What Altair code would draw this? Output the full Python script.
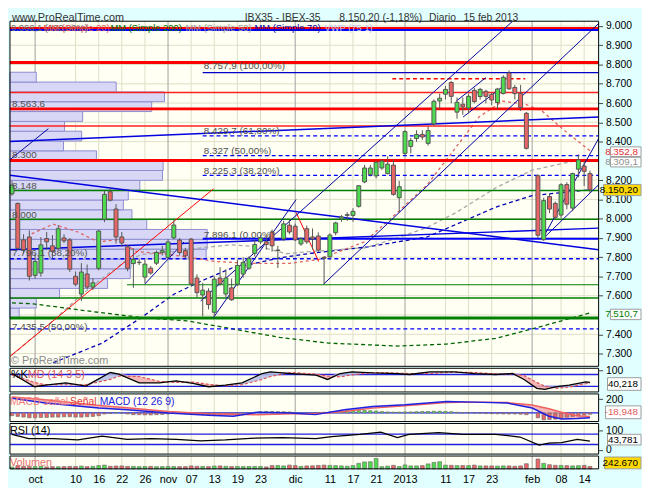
import altair as alt
import pandas as pd

# ============================ data ============================
CANDLE_IDX = list(range(0, 90)) + list(range(91, 101))
OPEN = [8129, 8079, 7890, 7905, 7706, 7718, 7897, 7859, 7846, 7900,
        7890, 7701, 7609, 7713, 7645, 7742, 7997, 8140, 8050, 7905,
        7854, 7767, 7772, 7697, 7743, 7769, 7825, 7798, 7900, 7889,
        7834, 7894, 7692, 7604, 7624, 7514, 7692, 7609, 7641, 7660,
        7713, 7743, 7820, 7880, 7880, 7931, 7835, 7895, 7966, 7961,
        7869, 7948, 7905, 7910, 7799, 7802, 7927, 7999, 8017, 8017,
        8064, 8191, 8229, 8222, 8263, 8234, 8278, 8109, 8339, 8375,
        8416, 8437, 8391, 8492, 8611, 8646, 8707, 8553, 8594, 8574,
        8666, 8634, 8661, 8645, 8603, 8650, 8756, 8681, 8650, 8547,
        8223, 7891, 8115, 8079, 8019, 8177, 8055, 8257, 8273, 8234]
HIGH = [8194, 8084, 7919, 7939, 7819, 7904, 7931, 7915, 7967, 7919,
        7899, 7726, 7769, 7762, 7692, 7941, 8145, 8159, 8075, 7931,
        7864, 7846, 7789, 7788, 7754, 7834, 7859, 7894, 7992, 7899,
        7849, 7899, 7711, 7667, 7639, 7701, 7749, 7737, 7689, 7788,
        7799, 7804, 7889, 7914, 7914, 7944, 7859, 7989, 7994, 7974,
        7904, 7964, 7949, 7929, 7804, 7924, 7984, 8019, 8034, 8054,
        8174, 8279, 8279, 8299, 8309, 8324, 8309, 8196, 8459, 8419,
        8459, 8459, 8479, 8619, 8649, 8689, 8714, 8629, 8629, 8649,
        8679, 8679, 8669, 8654, 8679, 8744, 8769, 8694, 8694, 8554,
        8229, 8109, 8129, 8089, 8184, 8189, 8239, 8334, 8299, 8249]
LOW = [8119, 7839, 7819, 7679, 7689, 7699, 7839, 7794, 7839, 7874,
       7724, 7649, 7573, 7635, 7629, 7732, 7982, 8089, 7871, 7854,
       7727, 7641, 7759, 7667, 7709, 7759, 7809, 7789, 7894, 7809,
       7794, 7649, 7590, 7494, 7529, 7489, 7654, 7590, 7574, 7650,
       7694, 7734, 7804, 7869, 7839, 7829, 7744, 7884, 7919, 7884,
       7859, 7869, 7839, 7829, 7661, 7789, 7914, 7984, 7989, 7984,
       8057, 8184, 8219, 8209, 8254, 8229, 8119, 8033, 8329, 8339,
       8399, 8409, 8379, 8484, 8569, 8619, 8599, 8519, 8539, 8549,
       8599, 8619, 8599, 8589, 8569, 8644, 8669, 8619, 8559, 8359,
       7899, 7884, 8029, 7999, 8004, 8049, 8039, 8214, 8169, 8134]
CLOSE = [8174, 7846, 7839, 7701, 7778, 7864, 7880, 7829, 7948, 7885,
         7738, 7660, 7723, 7645, 7667, 7936, 8126, 8096, 7905, 7874,
         7742, 7789, 7774, 7764, 7718, 7825, 7834, 7879, 7967, 7824,
         7807, 7661, 7616, 7629, 7554, 7686, 7662, 7692, 7579, 7757,
         7772, 7794, 7866, 7900, 7866, 7859, 7837, 7973, 7931, 7890,
         7895, 7880, 7895, 7837, 7794, 7915, 7978, 8009, 8021, 8038,
         8171, 8263, 8263, 8293, 8299, 8283, 8126, 8166, 8452, 8406,
         8437, 8424, 8457, 8609, 8625, 8671, 8635, 8604, 8581, 8635,
         8608, 8671, 8635, 8616, 8673, 8734, 8674, 8649, 8577, 8365,
         7914, 8094, 8050, 8007, 8176, 8075, 8234, 8305, 8246, 8150.2]
VOLUME = [180000, 330000, 260000, 250000, 230000, 260000, 200000, 230000, 210000, 230000,
          250000, 240000, 280000, 230000, 250000, 330000, 380000, 260000, 290000, 300000,
          250000, 250000, 220000, 240000, 250000, 220000, 230000, 240000, 240000, 220000,
          220000, 300000, 260000, 240000, 230000, 290000, 300000, 260000, 230000, 250000,
          230000, 240000, 250000, 240000, 200000, 330000, 340000, 300000, 380000, 330000,
          250000, 300000, 310000, 350000, 380000, 350000, 330000, 300000, 270000, 330000,
          560000, 700000, 720000, 1050000, 220000, 280000, 360000, 240000, 400000, 300000,
          300000, 330000, 500000, 650000, 720000, 380000, 360000, 330000, 340000, 330000,
          380000, 300000, 300000, 300000, 280000, 300000, 300000, 260000, 300000, 520000,
          1000000, 560000, 420000, 360000, 350000, 330000, 300000, 320000, 350000, 242670]
MACD_HIST = [-40, -50, -60, -70, -70, -65, -65, -60, -60, -55,
             -55, -60, -60, -55, -50, -40, -15, -5, 5, 0,
             -15, -25, -25, -28, -28, -25, -20, -15, -5, -5,
             -8, -18, -22, -25, -25, -22, -20, -18, -15, -8,
             -3, 0, 10, 18, 22, 22, 20, 18, 15, 5,
             0, -5, -3, 5, 10, 12, 18, 25, 30, 32,
             35, 35, 32, 28, 20, 15, 12, 12, 15, 15,
             18, 20, 22, 25, 25, 22, 18, 10, 5, 3,
             0, -3, -8, -10, -12, -14, -15, -15, -18, -25,
             -70, -100, -95, -90, -80, -60, -50, -40, -30, -18.948]

TICK_IDX = [4, 11, 15, 19, 23, 27, 31, 35, 39, 43, 49, 55, 59, 63, 68, 75, 79, 83, 90, 95, 99]
TICK_LABELS = ["oct", "10", "16", "22", "26", "nov", "07", "13", "19", "23", "dic",
               "11", "17", "21", "2013", "11", "17", "23", "feb", "08", "14"]
MONTH_TICKS = [4, 27, 49, 68, 90]
PRICE_TICKS = [9000, 8900, 8800, 8700, 8600, 8500, 8400, 8200, 8100,
               8000, 7900, 7800, 7700, 7600, 7400, 7300]
GRID_PRICES = [7300, 7400, 7500, 7600, 7700, 7800, 7900, 8000, 8100,
               8200, 8300, 8400, 8500, 8600, 8700, 8800, 8900, 9000]

MA20_IDX = [3.4, 7.1, 11.4, 14.8, 18.2, 21.6, 25.9, 31, 35.2, 41.2, 48, 53, 61,
            66.7, 71.8, 76.4, 80.8, 84.9, 88.8, 91.7, 95.6, 100]
MA20_VAL = [7921, 7972, 7931, 7880, 7890, 7829, 7819, 7798, 7778, 7768, 7768, 7788, 7880,
            8032, 8175, 8354, 8528, 8610, 8594, 8559, 8457, 8352.8]
MA50_IDX = [0, 7.1, 12.2, 15.6, 19.6, 22.4, 29.3, 32.7, 37.8, 42.9, 47.4, 51.4, 61.1,
            66.7, 71.8, 76.9, 83.7, 90, 97.8, 100]
MA50_VAL = [7293, 7471, 7609, 7691, 7778, 7814, 7834, 7849, 7864, 7854, 7818, 7829, 7849,
            7900, 7954, 8033, 8160, 8252, 8303, 8309.1]
MA70_IDX = [7.1, 15.6, 22.4, 28.1, 32.7, 38.3, 41.2, 46.8, 51.4, 61.6, 71.8, 83.7, 90, 100]
MA70_VAL = [7252, 7354, 7487, 7609, 7676, 7747, 7763, 7799, 7819, 7854, 7905, 8060, 8120, 8150]
MA200_IDX = [0, 3.7, 12.8, 22.4, 30.4, 37.8, 46.3, 54.8, 66.7, 75.2, 83.7, 92.2, 100]
MA200_VAL = [7563, 7558, 7522, 7487, 7469, 7430, 7384, 7354, 7339, 7349, 7379, 7446, 7510.7]

PROFILE_LOW = [7485, 7536, 7587, 7638, 7689, 7740, 7791, 7842, 7893, 7944, 7995, 8046, 8097,
               8148, 8199, 8250, 8301, 8352, 8403, 8454, 8505, 8556, 8607, 8658, 8709]
PROFILE_STEP = 51
PROFILE_VOL = [9.3, 26.7, 50.3, 99, 122, 122.7, 199, 200, 200, 138.7, 123.7, 115, 120,
               131.7, 154.7, 155.3, 87.7, 54.3, 72.7, 55.3, 73.7, 143.7, 156.7, 107.7, 26.7]

FULL_A, FULL_B, FIB_A = -0.35, 101.5, 33.0
HL_PRICE = [8990, 8979, 8811, 8757.9, 8726, 8655, 8570, 8481, 8429.7, 8327, 8302, 8225.3,
            8146, 7997, 7896.1, 7792, 7657, 7588, 7484, 7428]
HL_FROM = [FULL_A, FULL_A, FULL_A, FIB_A, 65.8, FULL_A, FULL_A, FULL_A, FIB_A, FIB_A, FULL_A, FIB_A,
           FULL_A, FULL_A, FIB_A, FULL_A, 19.9, FULL_A, FULL_A, FULL_A]
HL_TO = [FULL_B, FULL_B, FULL_B, FULL_B, 88.8, FULL_B, FULL_B, FULL_B, FULL_B, FULL_B, FULL_B, FULL_B,
         FULL_B, FULL_B, FULL_B, FULL_B, FULL_B, FULL_B, FULL_B, FULL_B]
HL_KIND = ["redw", "bluew", "redthick", "blue", "reddash", "red", "redthick", "red", "bluedash",
           "bluedash", "redthick", "bluedash", "green", "green", "bluew", "bluedash", "greenthin",
           "green", "greenthick", "bluedash"]

DG_I0 = [-0.35, 49.15, -0.35, -0.35, -0.35, -0.35, 22.96, 34.86, 32.65, 53.91, 76.87, 78.06, 91.67, 91.67]
DG_P0 = [7285, 8033, 8306, 8400, 8225, 7839, 7660, 7487, 7573, 7660, 8610, 8528, 7890, 7890]
DG_I1 = [34.86, 53.06, 6.29, 101.5, 101.5, 101.5, 29.76, 49.15, 86.56, 101.5, 81.97, 85.37, 101.5, 101.5]
DG_P1 = [8155, 7778, 8467, 8528, 7839, 7951, 7879, 8099, 9023, 9013, 8732, 8696, 8416, 8176]
DG_KIND = ["red", "red", "chan", "trend", "trend", "trend", "chan", "chan", "chan", "chan",
           "chan", "chan", "chan", "chan"]

NOTE_IDX = [33.2, 0.0, 33.2, 0.0, 33.2, 33.2, 0.0, 0.0, 33.2, 0.0, 0.0]
NOTE_PRICE = [8779, 8581, 8439, 8316, 8336, 8234, 8152, 8004, 7902, 7804, 7420]
NOTE_TEXT = ["8.757,9 (100,00%)", "8.563,6", "8.429,7 (61,80%)", "8.300", "8.327 (50,00%)",
             "8.225,3 (38,20%)", "8.148", "8.000", "7.896,1 (0,00%)", "7.796,1 (38,20%)",
             "7.435,5 (50,00%)"]

K_IDX = [0, 3.9, 5.8, 9.3, 12.8, 17, 18.5, 22, 25.5, 28.4, 31.3, 34, 36.9, 39.8, 43.3, 44.7,
         48.3, 52.6, 54.6, 56.8, 58.8, 62.4, 66.7, 68.8, 72.3, 76.5, 80.1, 83.7, 86.6, 88.6,
         90.8, 92.2, 94.3, 96.4, 99.3, 100]
K_VAL = [85, 18, 26, 38, 21, 90, 82, 38, 38, 48, 35, 18, 26, 38, 85, 93, 85, 77, 55, 85, 93,
         88, 85, 80, 93, 93, 85, 80, 85, 55, 10, 5, 18, 26, 43, 40.218]
D_VAL = [78, 40, 28, 28, 28, 55, 72, 70, 45, 40, 42, 30, 22, 28, 55, 70, 90, 82, 72, 68, 78,
         90, 87, 85, 85, 92, 90, 83, 82, 75, 40, 20, 10, 16, 33, 36]
K_LEVELS = [80, 20]

MACD_IDX = [0, 5.8, 15, 19.9, 27, 34, 38.3, 42.5, 48.3, 52.5, 57.5, 62.4, 68, 75.2, 80.1,
            85.7, 90, 92.9, 95.1, 97.8, 100]
MACD_VAL = [214, 143, 71, 47, 0, -33, -48, 10, 0, -24, 47, 95, 119, 166, 157, 143, 71, -48,
            -86, -81, -70]
SIGNAL_VAL = [230, 190, 110, 75, 20, -10, -20, -25, -10, -12, 20, 70, 105, 150, 157, 150,
              115, 60, 10, -40, -51]

RSI_IDX = [0, 2.9, 7.1, 11.4, 15.6, 19.9, 24.1, 28.4, 32.7, 36.9, 41.2, 46.8, 52.6, 55.3,
           60.2, 63.8, 66.7, 68.7, 73.8, 78.1, 83.7, 87.9, 91.2, 92.9, 95.1, 97.8, 100]
RSI_VAL = [78.5, 57, 57, 50, 70, 53.5, 57, 53.5, 45, 50, 58.5, 62, 57, 67, 78.5, 90, 62,
           78.5, 87, 78.5, 78.5, 65, 23.5, 33.5, 37, 53.5, 43.781]
RSI_LEVELS = [80, 27]

# ================================== styling ==================================
FONT = "Liberation Sans"
PAGE_BG = "#E1FFFF"
PLOT_BG = "#FFFFF3"
GRID_LIGHT = "#DEDEC8"
GRID_DARK = "#A0A0A0"
UP_COL = "#4FDB4F"
DOWN_COL = "#E86666"
EDGE = "#555555"

W = 597
H_MAIN, H_K, H_MACD, H_RSI, H_VOL = 358, 24, 28, 31, 13
TOP = 8
PX_PER_IDX = W / (FULL_B - FULL_A)

XS = alt.Scale(domain=[FULL_A, FULL_B], nice=False, zero=False)
YS = alt.Scale(domain=[7233.7, 9065.8], nice=False, zero=False)
KS = alt.Scale(domain=[-8.5, 111.5], nice=False, zero=False)
MS = alt.Scale(domain=[-124.3, 275.7], nice=False, zero=False)
RS = alt.Scale(domain=[-21.5, 133.5], nice=False, zero=False)
VS = alt.Scale(domain=[0, 1300000], nice=False, zero=False)
DIR_SCALE = alt.Scale(domain=["up", "down"], range=[UP_COL, DOWN_COL])

HL_STYLE = {
    "red": ("#FF2020", 1.5, None), "redw": ("#FF0000", 2, None),
    "redthick": ("#FF0000", 3, None), "reddash": ("#FF0000", 1.5, [4, 3]),
    "blue": ("#0000C8", 1.3, None), "bluew": ("#0000FF", 2, None),
    "bluedash": ("#0000FF", 1.3, [4, 3]), "green": ("#008000", 1.5, None),
    "greenthin": ("#008000", 1.2, None), "greenthick": ("#008000", 3, None),
}
DG_STYLE = {"red": ("#FF0000", 1), "chan": ("#0000A0", 1), "trend": ("#0000E0", 1.5)}


def right_axis(values, expr=None):
    kw = dict(orient="right", values=values, tickSize=4, labelPadding=3, domain=False,
              grid=False, title=None, labelFontSize=10.5, labelFont=FONT, labelColor="#000000",
              tickColor="#444444", labelOverlap=False)
    if expr:
        kw["labelExpr"] = expr
    return alt.Axis(**kw)


lab_expr = ("[" + ",".join(f"'{t}'" for t in TICK_LABELS) + "][indexof(["
            + ",".join(str(v) for v in TICK_IDX) + "], datum.value)]")
X_AXIS_BOTTOM = alt.Axis(values=TICK_IDX, labelExpr=lab_expr, ticks=False, tickSize=0,
                         domain=False, grid=False, title=None, labelFontSize=11, labelFont=FONT,
                         labelColor="#000000", labelPadding=5, labelOverlap=False,
                         labelFlush=False)

one = pd.DataFrame({"z": [0]})


def rect_px(x0, x1, y0, y1, **kw):
    return alt.Chart(one).mark_rect(**kw).encode(
        x=alt.value(x0), x2=alt.value(x1), y=alt.value(y0), y2=alt.value(y1))


def text_px(x, y, t, color, size=11):
    return alt.Chart(one).mark_text(text=t, color=color, fontSize=size, font=FONT,
                                    align="left", baseline="alphabetic").encode(
        x=alt.value(x), y=alt.value(y))


def frame(y0, y1):
    return rect_px(0, W, y0, y1, fill="white", fillOpacity=0, stroke="#000000", strokeWidth=1)


def vgrid(y0, y1, xax):
    out = []
    for col, vals in [(GRID_LIGHT, [v for v in TICK_IDX if v not in MONTH_TICKS]),
                      (GRID_DARK, MONTH_TICKS)]:
        out.append(alt.Chart(pd.DataFrame({"i": vals})).mark_rule(color=col, strokeWidth=1).encode(
            x=alt.X("i:Q", scale=XS, axis=xax), y=alt.value(y0), y2=alt.value(y1)))
    return out


def vbox(v, t, scale, yax, half, yoff, x0, tcol, fill):
    df = pd.DataFrame({"v": [v], "t": [t]})
    r = alt.Chart(df).mark_rect(fill=fill, stroke="#9C9C9C", strokeWidth=1,
                                yOffset=yoff, y2Offset=yoff).transform_calculate(
        a=f"datum.v + {half}", b=f"datum.v - {half}").encode(
        x=alt.value(x0), x2=alt.value(640), y=alt.Y("a:Q", scale=scale, axis=yax), y2="b:Q")
    tx = alt.Chart(df).mark_text(align="right", baseline="middle", fontSize=10, font=FONT,
                                 color=tcol, yOffset=yoff).encode(
        x=alt.value(637), y=alt.Y("v:Q", scale=scale, axis=yax), text="t:N")
    return [r, tx]


cd = pd.DataFrame({"i": CANDLE_IDX, "o": OPEN, "h": HIGH, "l": LOW, "c": CLOSE,
                   "v": VOLUME, "m": MACD_HIST})
cd["dir"] = ["up" if c >= o else "down" for o, c in zip(OPEN, CLOSE)]

# ================================== main panel ==================================
YA = right_axis(PRICE_TICKS, "replace(format(datum.value, ',.0f'), ',', '.')")
main_layers = [rect_px(0, W, TOP, H_MAIN, fill=PLOT_BG)]
main_layers.append(alt.Chart(pd.DataFrame({"p": GRID_PRICES})).mark_rule(color=GRID_LIGHT).encode(
    y=alt.Y("p:Q", scale=YS, axis=YA), x=alt.value(0), x2=alt.value(W)))
main_layers += vgrid(TOP, H_MAIN, None)

prof = pd.DataFrame({"lo": PROFILE_LOW, "w": PROFILE_VOL})
main_layers.append(alt.Chart(prof).mark_rect(fill="#D8D8F6", stroke="#8C8CD0", strokeWidth=1).transform_calculate(
    hi=f"datum.lo + {PROFILE_STEP}", a=f"{FULL_A}", b=f"{FULL_A} + datum.w / {PX_PER_IDX}").encode(
    x=alt.X("a:Q", scale=XS, axis=None), x2="b:Q",
    y=alt.Y("lo:Q", scale=YS, axis=YA), y2="hi:Q"))

for idx, val, col, dash in [(MA200_IDX, MA200_VAL, "#006400", [4, 3]),
                            (MA70_IDX, MA70_VAL, "#0000B0", [4, 3]),
                            (MA50_IDX, MA50_VAL, "#A8A8A8", [4, 3]),
                            (MA20_IDX, MA20_VAL, "#E06060", [3, 3])]:
    main_layers.append(alt.Chart(pd.DataFrame({"i": idx, "p": val})).mark_line(
        color=col, strokeWidth=1.3, strokeDash=dash, clip=True).encode(
        x=alt.X("i:Q", scale=XS, axis=None), y=alt.Y("p:Q", scale=YS, axis=YA)))

hl = pd.DataFrame({"p": HL_PRICE, "a": HL_FROM, "b": HL_TO, "k": HL_KIND})
for kind, (col, w, dash) in HL_STYLE.items():
    sub = hl[hl.k == kind]
    if len(sub) == 0:
        continue
    kw = dict(color=col, strokeWidth=w)
    if dash:
        kw["strokeDash"] = dash
    main_layers.append(alt.Chart(sub).mark_rule(**kw).encode(
        x=alt.X("a:Q", scale=XS, axis=None), x2="b:Q", y=alt.Y("p:Q", scale=YS, axis=YA)))

dg = pd.DataFrame({"a": DG_I0, "pa": DG_P0, "b": DG_I1, "pb": DG_P1, "k": DG_KIND})
for kind, (col, w) in DG_STYLE.items():
    sub = dg[dg.k == kind]
    main_layers.append(alt.Chart(sub).mark_rule(color=col, strokeWidth=w, clip=True).encode(
        x=alt.X("a:Q", scale=XS, axis=None), x2="b:Q",
        y=alt.Y("pa:Q", scale=YS, axis=YA), y2="pb:Q"))

main_layers.append(alt.Chart(cd).mark_rule(color=EDGE, strokeWidth=1).encode(
    x=alt.X("i:Q", scale=XS, axis=None), y=alt.Y("l:Q", scale=YS, axis=YA), y2="h:Q"))
main_layers.append(alt.Chart(cd).mark_rect(stroke=EDGE, strokeWidth=1).transform_calculate(
    a="datum.i - 0.34", b="datum.i + 0.34").encode(
    x=alt.X("a:Q", scale=XS, axis=None), x2="b:Q",
    y=alt.Y("o:Q", scale=YS, axis=YA), y2="c:Q",
    fill=alt.Fill("dir:N", scale=DIR_SCALE, legend=None)))

notes = pd.DataFrame({"i": NOTE_IDX, "p": NOTE_PRICE, "t": NOTE_TEXT})
main_layers.append(alt.Chart(notes).mark_text(align="left", baseline="alphabetic", fontSize=10,
                                              font=FONT, color="#505050").encode(
    x=alt.X("i:Q", scale=XS, axis=None), y=alt.Y("p:Q", scale=YS, axis=YA), text="t:N"))

main_layers += vbox(8352.8, "8.352,8", YS, YA, 25, 1.0, 609, "#E03030", "#FFFFFF")
main_layers += vbox(8309.1, "8.309,1", YS, YA, 25, 3.0, 609, "#909090", "#FFFFFF")
main_layers += vbox(8150.2, "8.150,20", YS, YA, 29, 0.3, 602, "#000000", "#FFD800")
main_layers += vbox(7510.7, "7.510,7", YS, YA, 27, 1.5, 609, "#008000", "#FFFFFF")

for x, y, t, col, sz in [
        (2, 7.5, "www.ProRealTime.com", "#333333", 11),
        (238, 7.5, "IBX35 - IBEX-35", "#333333", 10.5),
        (334, 7.5, "8.150,20 (-1,18%)", "#333333", 10.5),
        (425, 7.5, "Diario", "#333333", 10.5),
        (460, 7.5, "15 feb 2013", "#333333", 10.5),
        (1, 18, "9.066,1 (100,00%)", "#707070", 9.5),
        (34, 18, "MM (Simple 20)", "#E05A5A", 9.5),
        (102, 18, "MM (Simple 200)", "#007000", 9.5),
        (178, 18, "MM (Simple 50)", "#A0A0A0", 9.5),
        (248, 18, "MM (Simple 70)", "#0000B0", 9.5),
        (319, 18, "VWP (75 1)", "#C4C4EE", 9.5),
        (1, 356, "\u00a9 ProRealTime.com", "#8C8C8C", 11)]:
    main_layers.append(text_px(x, y, t, col, sz))
main_layers.append(frame(TOP, H_MAIN))
main = alt.layer(*main_layers).properties(width=W, height=H_MAIN)

# ================================== %K panel ==================================
KA = right_axis([100])
kd = pd.DataFrame({"i": K_IDX, "k": K_VAL, "d": D_VAL})
k_layers = [rect_px(0, W, 0, H_K, fill=PLOT_BG)] + vgrid(0, H_K, None)
k_layers.append(alt.Chart(pd.DataFrame({"y": K_LEVELS})).mark_rule(color="#2020E0", strokeWidth=1.3).encode(
    y=alt.Y("y:Q", scale=KS, axis=KA), x=alt.value(0), x2=alt.value(W)))
k_layers.append(alt.Chart(kd).mark_area(color="#F2AAAA", opacity=0.85).transform_calculate(
    mx="max(datum.k, datum.d)").encode(
    x=alt.X("i:Q", scale=XS, axis=None), y=alt.Y("k:Q", scale=KS, axis=KA), y2="mx:Q"))
k_layers.append(alt.Chart(kd).mark_area(color="#B4BCE4", opacity=0.85).transform_calculate(
    mx="max(datum.k, datum.d)").encode(
    x=alt.X("i:Q", scale=XS, axis=None), y=alt.Y("d:Q", scale=KS, axis=KA), y2="mx:Q"))
k_layers.append(alt.Chart(kd).mark_line(color="#E05050", strokeWidth=1.2, strokeDash=[3, 2]).encode(
    x=alt.X("i:Q", scale=XS, axis=None), y=alt.Y("d:Q", scale=KS, axis=KA)))
k_layers.append(alt.Chart(kd).mark_line(color="#000000", strokeWidth=1.3).encode(
    x=alt.X("i:Q", scale=XS, axis=None), y=alt.Y("k:Q", scale=KS, axis=KA)))
k_layers += [text_px(1, 10, "%K", "#000000", 11), text_px(18, 10, "MD (14 3 5)", "#E05A5A", 11)]
k_layers += vbox(40.218, "40,218", KS, KA, 32, 1.7, 606, "#000000", "#FFFFFF")
k_layers.append(frame(0, H_K))
kpanel = alt.layer(*k_layers).properties(width=W, height=H_K)

# ================================== MACD panel ==================================
MA_AX = right_axis([200])
md = pd.DataFrame({"i": MACD_IDX, "m": MACD_VAL, "s": SIGNAL_VAL})
m_layers = [rect_px(0, W, 0, H_MACD, fill=PLOT_BG)] + vgrid(0, H_MACD, None)
m_layers.append(alt.Chart(pd.DataFrame({"y": [0]})).mark_rule(color="#2020E0", strokeWidth=1.3).encode(
    y=alt.Y("y:Q", scale=MS, axis=MA_AX), x=alt.value(0), x2=alt.value(W)))
m_layers.append(alt.Chart(md).mark_area(color="#F2AAAA", opacity=0.85).transform_calculate(
    mx="max(datum.m, datum.s)").encode(
    x=alt.X("i:Q", scale=XS, axis=None), y=alt.Y("m:Q", scale=MS, axis=MA_AX), y2="mx:Q"))
m_layers.append(alt.Chart(md).mark_area(color="#B4BCE4", opacity=0.85).transform_calculate(
    mx="max(datum.m, datum.s)").encode(
    x=alt.X("i:Q", scale=XS, axis=None), y=alt.Y("s:Q", scale=MS, axis=MA_AX), y2="mx:Q"))
m_layers.append(alt.Chart(cd).mark_rect(stroke="#707070", strokeWidth=0.7).transform_calculate(
    a="datum.i - 0.3", b="datum.i + 0.3", z="0", sg="datum.m >= 0 ? 'up' : 'down'").encode(
    x=alt.X("a:Q", scale=XS, axis=None), x2="b:Q",
    y=alt.Y("m:Q", scale=MS, axis=MA_AX), y2="z:Q",
    fill=alt.Fill("sg:N", scale=DIR_SCALE, legend=None)))
m_layers.append(alt.Chart(md).mark_line(color="#F06060", strokeWidth=1.5).encode(
    x=alt.X("i:Q", scale=XS, axis=None), y=alt.Y("s:Q", scale=MS, axis=MA_AX)))
m_layers.append(alt.Chart(md).mark_line(color="#2020E0", strokeWidth=1.5).encode(
    x=alt.X("i:Q", scale=XS, axis=None), y=alt.Y("m:Q", scale=MS, axis=MA_AX)))
m_layers += [text_px(0, 11, "MACD se\u00f1al", "#F08080", 10.5),
             text_px(61, 11, "Se\u00f1al", "#E04040", 10.5),
             text_px(91, 11, "MACD (12 26 9)", "#2020E0", 10.5)]
m_layers += vbox(-18.948, "-18,948", MS, MA_AX, 93, -2, 604, "#E06060", "#FFFFFF")
m_layers.append(frame(0, H_MACD))
macd = alt.layer(*m_layers).properties(width=W, height=H_MACD)

# ================================== RSI panel ==================================
RA = right_axis([100, 0])
rd = pd.DataFrame({"i": RSI_IDX, "r": RSI_VAL})
r_layers = [rect_px(0, W, 0, H_RSI, fill=PLOT_BG)] + vgrid(0, H_RSI, None)
r_layers.append(alt.Chart(pd.DataFrame({"y": RSI_LEVELS})).mark_rule(color="#2020E0", strokeWidth=1.3).encode(
    y=alt.Y("y:Q", scale=RS, axis=RA), x=alt.value(0), x2=alt.value(W)))
r_layers.append(alt.Chart(rd).mark_line(color="#000000", strokeWidth=1.3).encode(
    x=alt.X("i:Q", scale=XS, axis=None), y=alt.Y("r:Q", scale=RS, axis=RA)))
r_layers.append(text_px(0, 10.5, "RSI (14)", "#000000", 11))
r_layers += vbox(43.781, "43,781", RS, RA, 27, -1.6, 606, "#000000", "#FFFFFF")
r_layers.append(frame(0, H_RSI))
rsi = alt.layer(*r_layers).properties(width=W, height=H_RSI)

# ================================== volume panel ==================================
v_layers = [rect_px(0, W, 0, H_VOL, fill=PLOT_BG)] + vgrid(0, H_VOL, X_AXIS_BOTTOM)
v_layers.append(alt.Chart(cd).mark_rect(stroke="#707070", strokeWidth=0.7).transform_calculate(
    a="datum.i - 0.33", b="datum.i + 0.33", z="0").encode(
    x=alt.X("a:Q", scale=XS, axis=X_AXIS_BOTTOM),
    x2="b:Q", y=alt.Y("v:Q", scale=VS, axis=None), y2="z:Q",
    fill=alt.Fill("dir:N", scale=DIR_SCALE, legend=None)))
v_layers.append(text_px(0, 10, "Volumen", "#E87070", 11))
v_layers += vbox(242670, "242.670", VS, None, 600000, -3.6, 603, "#000000", "#FFD800")
v_layers.append(frame(0, H_VOL))
vol = alt.layer(*v_layers).properties(width=W, height=H_VOL)

chart = alt.vconcat(main, kpanel, macd, rsi, vol, spacing=2, bounds="flush").resolve_scale(
    x="independent", y="independent", fill="independent").properties(
    padding=0, background=PAGE_BG).configure_view(strokeWidth=0)

chart.save("out.html", embed_options={"renderer": "svg", "actions": False})
